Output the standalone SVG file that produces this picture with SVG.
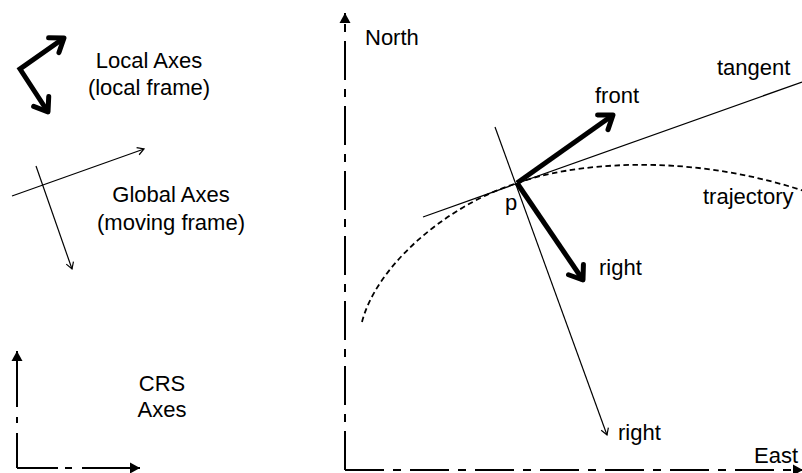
<svg xmlns="http://www.w3.org/2000/svg" width="802" height="473" viewBox="0 0 802 473">
  <style>
    text { font-family: "Liberation Sans", Arial, sans-serif; font-size: 22px; fill: #000; }
    .mid { text-anchor: middle; }
    .axis { fill: none; stroke: #000; stroke-width: 2; }
    .bigdash { stroke-dasharray: 39 9 8 9; }
    .thick { fill: none; stroke: #000; stroke-width: 5; stroke-linejoin: miter; }
    .thin { fill: none; stroke: #000; stroke-width: 1.2; }
    .traj { fill: none; stroke: #000; stroke-width: 1.8; stroke-dasharray: 5.5 3.5; }
  </style>
  <defs>
    <marker id="tri" markerUnits="userSpaceOnUse" orient="auto" overflow="visible" markerWidth="12" markerHeight="12" refX="0" refY="0">
      <path d="M0,0 L-10,-5.5 L-10,5.5 Z" fill="#000"/>
    </marker>
    <marker id="chevThick" markerUnits="userSpaceOnUse" orient="auto-start-reverse" overflow="visible" markerWidth="20" markerHeight="20" refX="0" refY="0">
      <path d="M-12.5,-9 L0,0 L-12.5,9" fill="none" stroke="#000" stroke-width="5" stroke-linecap="round" stroke-linejoin="round"/>
    </marker>
    <marker id="chevThin" markerUnits="userSpaceOnUse" orient="auto" overflow="visible" markerWidth="10" markerHeight="10" refX="0" refY="0">
      <path d="M-6.5,-3.8 L0,0 L-6.5,3.8" fill="none" stroke="#000" stroke-width="1.2"/>
    </marker>
  </defs>

  <g id="local-axes-legend">
    <path class="thick" d="M64,38 L20,69 L48,112" marker-start="url(#chevThick)" marker-end="url(#chevThick)"/>
    <text class="mid" x="149" y="68">Local Axes</text>
    <text class="mid" x="149" y="95">(local frame)</text>
  </g>

  <g id="global-axes-legend">
    <path class="thin" d="M12,196 L144,149" marker-end="url(#chevThin)"/>
    <path class="thin" d="M36,166 L72,269" marker-end="url(#chevThin)"/>
    <text class="mid" x="171" y="202">Global Axes</text>
    <text class="mid" x="171" y="230">(moving frame)</text>
  </g>

  <g id="crs-legend">
    <path class="axis" d="M17,468 V351" stroke-dasharray="35 10 6 10 60" marker-end="url(#tri)"/>
    <path class="axis" d="M17,468 H140" stroke-dasharray="41 7 7 10 60" marker-end="url(#tri)"/>
    <text class="mid" x="162" y="391">CRS</text>
    <text class="mid" x="162" y="417">Axes</text>
  </g>

  <g id="north-axis">
    <path class="axis bigdash" d="M345,470 V13" marker-end="url(#tri)"/>
    <text x="365" y="45">North</text>
  </g>

  <g id="east-axis">
    <path class="axis bigdash" d="M345,470 H803" marker-end="url(#tri)"/>
    <text x="754" y="463">East</text>
  </g>

  <g id="trajectory">
    <path class="traj" d="M362,322 C375,270 440,208 517,183 C567,165 680,150 804,191"/>
    <text x="703" y="204">trajectory</text>
  </g>

  <g id="tangent">
    <path class="thin" d="M423,217 L802,82"/>
    <text x="717" y="75">tangent</text>
  </g>

  <g id="point-p">
    <text x="505" y="210">p</text>
  </g>

  <g id="connectors">
    <g id="right-normal">
      <path class="thin" d="M495,127 L607,435" marker-end="url(#chevThin)"/>
      <text x="618" y="440">right</text>
    </g>
    <g id="front-vector">
      <path class="thick" d="M517,183 L613,115" marker-end="url(#chevThick)"/>
      <text x="595" y="103">front</text>
    </g>
    <g id="right-vector">
      <path class="thick" d="M517,183 L583,280" marker-end="url(#chevThick)"/>
      <text x="599" y="275">right</text>
    </g>
  </g>
</svg>
